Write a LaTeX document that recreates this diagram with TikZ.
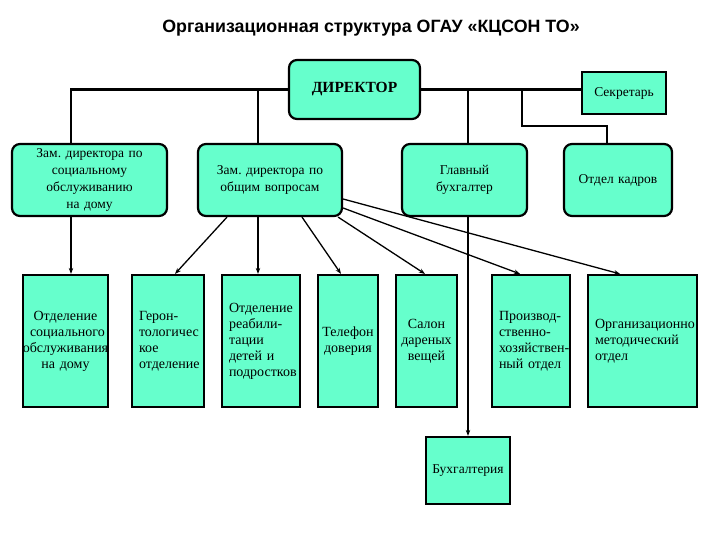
\documentclass[tikz,border=0pt]{standalone}
\usepackage{fontspec}
\setmainfont{Liberation Serif}
\newfontfamily\titlefont{Liberation Sans}
\usetikzlibrary{arrows.meta}
\definecolor{boxfill}{HTML}{66FFCC}
\begin{document}
\frenchspacing
\begin{tikzpicture}[x=1pt,y=-1pt,
  rbox/.style={draw=black, line width=2.2pt, fill=boxfill, rounded corners=8pt,
    align=center, inner sep=2pt, font=\fontsize{13.5}{17}\selectfont},
  sbox/.style={draw=black, line width=2.2pt, fill=boxfill, inner xsep=7pt, inner ysep=2pt,
    font=\fontsize{14}{16}\selectfont},
  conn/.style={line width=2.2pt},
  arr/.style={line width=1.3pt, -{Stealth[length=6pt,width=4.5pt]}}]
\useasboundingbox (0,0) rectangle (720,540);

% title
\node[font=\titlefont\bfseries\fontsize{17.8}{21}\selectfont] (title) at (371,28)
  {Организационная структура ОГАУ «КЦСОН ТО»};

% top level
\node[rbox, minimum width=131pt, minimum height=59pt,
  font=\bfseries\fontsize{15.5}{18}\selectfont] (dir) at (354.5,89.5) {ДИРЕКТОР};
\node[sbox, minimum width=84pt, minimum height=42pt, font=\fontsize{13.5}{17}\selectfont, inner xsep=2pt]
  (sec) at (624,93) {Секретарь};

% second row
\node[rbox, minimum width=155pt, minimum height=72pt, text width=150pt] (zsoc) at (89.5,180)
  {Зам. директора по\\социальному\\обслуживанию\\на дому};
\node[rbox, minimum width=144pt, minimum height=72pt, text width=139pt] (zgen) at (270,180)
  {Зам. директора по\\общим вопросам};
\node[rbox, minimum width=125pt, minimum height=72pt, text width=120pt] (gb) at (464.5,180)
  {Главный\\бухгалтер};
\node[rbox, minimum width=108pt, minimum height=72pt, text width=103pt] (ok) at (618,180)
  {Отдел кадров};

% third row
\node[sbox, minimum width=85pt, minimum height=132pt, text width=71pt, align=center] (A) at (65.5,341)
  {Отделение\\социального\\\makebox[71pt]{обслуживания}\\на дому};
\node[sbox, minimum width=72pt, minimum height=132pt, text width=58pt, align=left] (B) at (168,341)
  {\mbox{Герон-}\\тологичес\\кое\\отделение};
\node[sbox, minimum width=78pt, minimum height=132pt, text width=64pt, align=left] (C) at (261,341)
  {Отделение\\\mbox{реабили-}\\тации\\детей и\\подростков};
\node[sbox, minimum width=60pt, minimum height=132pt, text width=58pt, inner xsep=1pt, align=center] (D) at (348,341)
  {Телефон\\доверия};
\node[sbox, minimum width=61pt, minimum height=132pt, text width=59pt, inner xsep=1pt, align=center] (E) at (426.5,341)
  {Салон\\дареных\\вещей};
\node[sbox, minimum width=78pt, minimum height=132pt, text width=64pt, align=left] (F) at (531,341)
  {\mbox{Производ-}\\\mbox{ственно-}\\\mbox{хозяйствен-}\\ный отдел};
\node[sbox, minimum width=109pt, minimum height=132pt, text width=95pt, align=left] (G) at (642.5,341)
  {Организационно\\методический\\отдел};

\node[sbox, minimum width=84pt, minimum height=67pt, inner xsep=2pt, font=\fontsize{13.5}{17}\selectfont]
  (bh) at (468,470.5) {Бухгалтерия};

% connectors from director
\draw[conn] (dir.west) -| ([xshift=-18.5pt]zsoc.north);
\draw[conn] ([xshift=-12pt]zgen.north) -- ([xshift=-12pt]zgen.north |- dir.west);
\draw[conn] (dir.east) -- (dir.east -| sec.west);
\draw[conn] ([xshift=3.5pt]gb.north) -- ([xshift=3.5pt]gb.north |- dir.east);
\coordinate (jk) at (522,89.5);
\draw[conn] (jk) -- (522,126) -| ([xshift=-11pt]ok.north);

% arrows
\draw[arr, line width=2pt] ([xshift=-18.5pt]zsoc.south) -- ([xshift=-18.5pt]zsoc.south |- A.north);
\draw[arr] ([xshift=-43pt]zgen.south) -- ([xshift=7pt]B.north);
\draw[arr, line width=2pt] ([xshift=-12pt]zgen.south) -- ([xshift=-12pt]zgen.south |- C.north);
\draw[arr] ([xshift=32pt]zgen.south) -- ([xshift=-7pt]D.north);
\draw[arr] ([xshift=-5pt]zgen.south east) -- ([xshift=-1.5pt]E.north);
\draw[arr] ([yshift=-28pt]zgen.east) -- ([xshift=-11pt]F.north);
\draw[arr] ([yshift=-19pt]zgen.east) -- ([xshift=-22.5pt]G.north);
\draw[arr, line width=2pt] ([xshift=3.5pt]gb.south) -- (bh.north);
\end{tikzpicture}
\end{document}
